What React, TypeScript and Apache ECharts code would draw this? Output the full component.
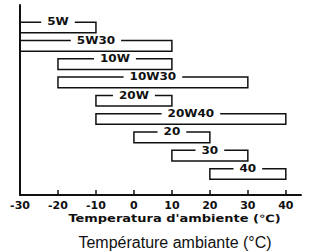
import React, { useEffect, useRef } from "react";
import * as echarts from "echarts";

const grades = ["5W", "5W30", "10W", "10W30", "20W", "20W40", "20", "30", "40"];
const minTemps = [-30, -30, -20, -20, -10, -10, 0, 10, 20];
const maxTemps = [-10, 10, 10, 30, 10, 40, 20, 30, 40];
const tickLabels = [-30, -20, -10, 0, 10, 20, 30, 40];
const tickMarks = [-20, -10, 0, 10, 20, 30, 40];
const axisTitle = "Temperatura d'ambiente (℃)";
const subTitle = "Température ambiante (°C)";

export default function App() {
  const ref = useRef<HTMLDivElement>(null);
  useEffect(() => {
    if (!ref.current) return;
    const chart = echarts.init(ref.current, null, { renderer: "svg" });
    const data = grades.map((g, i) => [minTemps[i], maxTemps[i], i]);
    chart.setOption({
      animation: false,
      backgroundColor: "#fff",
      grid: { left: 20, right: 11, top: 5, bottom: 57 },
      xAxis: {
        type: "value",
        min: -30,
        max: 44,
        interval: 10,
        splitLine: { show: false },
        axisLine: { onZero: false, lineStyle: { color: "#111", width: 2 } },
        axisTick: {
          inside: true,
          length: 5,
          customValues: tickMarks,
          lineStyle: { color: "#111", width: 1.5 },
        },
        axisLabel: {
          customValues: tickLabels,
          margin: 5,
          color: "#111",
          fontFamily: "DejaVu Sans",
          fontWeight: "bold",
          fontSize: 11,
        },
      },
      yAxis: {
        type: "value",
        min: -1.23,
        max: 9.15,
        inverse: true,
        splitLine: { show: false },
        axisTick: { show: false },
        axisLabel: { show: false },
        axisLine: { show: true, onZero: false, lineStyle: { color: "#111", width: 2 } },
      },
      series: [
        {
          type: "custom",
          data,
          clip: false,
          renderItem: (params: any, api: any) => {
            const s = api.coord([api.value(0), api.value(2)]);
            const e = api.coord([api.value(1), api.value(2)]);
            const h = api.size([0, 1])[1] * 0.58;
            const idx = api.value(2);
            return {
              type: "group",
              children: [
                {
                  type: "rect",
                  shape: { x: s[0], y: s[1] - h / 2, width: e[0] - s[0], height: h },
                  style: { fill: "none", stroke: "#111", lineWidth: 1.5 },
                },
                {
                  type: "text",
                  x: (s[0] + e[0]) / 2,
                  y: s[1] - h / 2,
                  scaleX: 1.2,
                  style: {
                    text: grades[idx],
                    x: 0,
                    y: 0,
                    align: "center",
                    verticalAlign: "middle",
                    fill: "#111",
                    font: 'bold 10px "DejaVu Sans"',
                    backgroundColor: "#fff",
                    padding: [1, 5],
                  },
                },
              ],
            };
          },
        },
      ],
      graphic: [
        {
          type: "text",
          x: 174.5,
          y: 219,
          scaleX: 1.3,
          style: {
            text: axisTitle,
            x: 0,
            y: 0,
            align: "center",
            verticalAlign: "middle",
            fill: "#111",
            font: 'bold 10px "DejaVu Sans"',
          },
        },
        {
          type: "text",
          x: 175,
          y: 242,
          style: {
            text: subTitle,
            x: 0,
            y: 0,
            align: "center",
            verticalAlign: "middle",
            fill: "#111",
            font: '16px "Liberation Sans"',
          },
        },
      ],
    });
    return () => chart.dispose();
  }, []);
  return <div ref={ref} style={{ width: 312, height: 252, position: "absolute", left: 0, top: 0 }} />;
}
